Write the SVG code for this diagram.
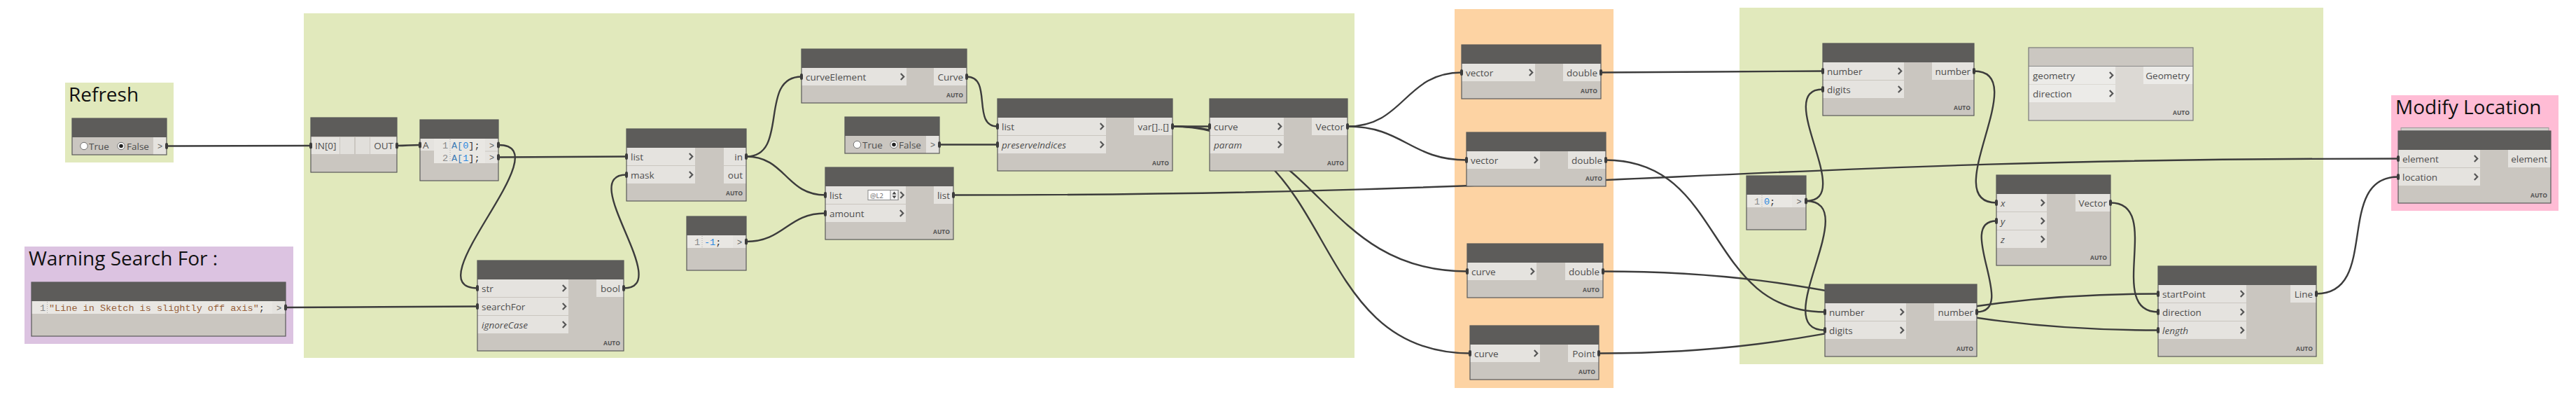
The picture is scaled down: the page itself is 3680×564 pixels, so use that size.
<svg xmlns="http://www.w3.org/2000/svg" width="3680" height="564" viewBox="0 0 3680 564">
<defs>
<style>
.grp-g{fill:#E1E9BC}
.grp-o{fill:#FDD3A3}
.grp-p{fill:#DCC3E1}
.grp-k{fill:#FFBCD5}
.gt{font-family:"Open Sans","Noto Sans",sans-serif;font-size:28px;fill:#111}
.bd{fill:#CAC6C0}
.hd{fill:#5D5C5A}
.bo{fill:none;stroke:#595959;stroke-width:1.2}
.pt{fill:#E5E3DF}
.cd{fill:#E9E7E3}
.bdl{fill:#DCD9D4}
.hdl{fill:#CBC7C1}
.ptl{fill:#ECEBE8}
.bol{fill:none;stroke:#7A7A7A;stroke-width:1.2}
.lb{font-family:"Open Sans","Noto Sans",sans-serif;font-size:13.5px;fill:#4D4D4D}
.it{font-style:italic}
.ol{text-anchor:end}
.auto{font-family:"Open Sans","Noto Sans",sans-serif;font-size:8.5px;font-weight:bold;fill:#555;text-anchor:end}
.ch{fill:none;stroke:#555;stroke-width:2.2}
.w{fill:none;stroke:#3C3C3C;stroke-width:2.4}
.nub{fill:#3C3C3C}
.mono{font-family:"Liberation Mono","DejaVu Sans Mono",monospace;font-size:13.5px;fill:#333}
.ln{fill:#8A8A8A}
.gut{stroke:#A8A8A8;stroke-width:1;stroke-dasharray:1 2}
.gtx{font-family:"Liberation Sans",sans-serif;font-size:12px;fill:#666;text-anchor:middle}
.rad{fill:#fff;stroke:#6E6E6E;stroke-width:1}
.num{fill:#2A88E0}
.var{fill:#3E7CB5}
.str{fill:#96603A}
.sep{stroke:#C9C6C1;stroke-width:1}
</style>
<path id="chev" class="ch" d="M-2.2,-4.5 L2.2,0 L-2.2,4.5"/>
</defs>
<rect width="3680" height="564" fill="#fff"/>

<!-- groups -->
<g id="groups">
<g id="g-refresh"><rect class="grp-g" x="93" y="118" width="155" height="114"/><text class="gt" x="98" y="145">Refresh</text></g>
<g id="g-warning"><rect class="grp-p" x="35" y="352" width="384" height="139"/><text class="gt" x="41" y="379">Warning Search For :</text></g>
<g id="g-main"><rect class="grp-g" x="434" y="19" width="1501" height="492"/></g>
<g id="g-orange"><rect class="grp-o" x="2078" y="13" width="227" height="541"/></g>
<g id="g-right"><rect class="grp-g" x="2485" y="11" width="834" height="509"/></g>
<g id="g-modify"><rect class="grp-k" x="3416" y="136" width="239" height="165"/><text class="gt" x="3422" y="163">Modify Location</text></g>
</g>

<!-- connectors -->
<g id="connectors">
<path class="w" d="M238,208.5 C330.7,208.5 351.3,208 444,208"/>
<path class="w" d="M567,208 C582,208 585,207 600,207"/>
<path class="w" d="M712,207 C805.2,207 588.8,411.5 682,411.5"/>
<path class="w" d="M712,224.5 C794.4,224.5 812.6,223.5 895,223.5"/>
<path class="w" d="M408,439 C531.3,439 558.7,437.5 682,437.5"/>
<path class="w" d="M891,411.5 C964,411.5 822,249.5 895,249.5"/>
<path class="w" d="M1066,223.5 C1128.4,223.5 1082.6,109.5 1145,109.5"/>
<path class="w" d="M1066,223.5 C1122.6,223.5 1122.4,278.5 1179,278.5"/>
<path class="w" d="M1066,345 C1120,345 1125,304.5 1179,304.5"/>
<path class="w" d="M1381,109.5 C1418.6,109.5 1387.4,180.5 1425,180.5"/>
<path class="w" d="M1342,206.5 C1379.4,206.5 1387.6,206.5 1425,206.5"/>
<path class="w" d="M1675,180.5 C1698.9,180.5 1704.1,180.5 1728,180.5"/>
<path class="w" d="M1675,180.5 C1886,180.5 1885,387.5 2096,387.5"/>
<path class="w" d="M1675,180.5 C1915.3,180.5 1859.7,504.5 2100,504.5"/>
<path class="w" d="M1925,180.5 C2006.2,180.5 2006.8,103.5 2088,103.5"/>
<path class="w" d="M1925,180.5 C2004.4,180.5 2015.6,228.5 2095,228.5"/>
<path class="w" d="M1362,278.5 C2291.1,278.5 2496.9,226.5 3426,226.5"/>
<path class="w" d="M2287,103.5 C2429.7,103.5 2461.3,101.5 2604,101.5"/>
<path class="w" d="M2294,228.5 C2465.4,228.5 2435.6,445.5 2607,445.5"/>
<path class="w" d="M2580,287 C2652.6,287 2531.4,127.5 2604,127.5"/>
<path class="w" d="M2580,287 C2663.9,287 2523.1,471.5 2607,471.5"/>
<path class="w" d="M2820,101.5 C2906,101.5 2766,289.5 2852,289.5"/>
<path class="w" d="M2824,445.5 C2883.8,445.5 2792.2,315.5 2852,315.5"/>
<path class="w" d="M2290,387.5 C2648.8,387.5 2724.2,471.5 3083,471.5"/>
<path class="w" d="M2284,504.5 C2645.6,504.5 2721.4,419.5 3083,419.5"/>
<path class="w" d="M3015,289.5 C3091.4,289.5 3006.6,445.5 3083,445.5"/>
<path class="w" d="M3309,419.5 C3400.8,419.5 3334.2,252.5 3426,252.5"/>
</g>

<!-- nodes -->
<g id="n-refresh-toggle">
<rect class="bd" x="103" y="169" width="135" height="52"/>
<rect class="hd" x="103" y="169" width="135" height="27"/>
<circle class="rad" cx="120" cy="208.5" r="5.2"/>
<text class="lb" x="127" y="213.5">True</text>
<circle class="rad" cx="173" cy="208.5" r="5.2"/>
<circle cx="173" cy="208.5" r="2.8" fill="#222"/>
<text class="lb" x="181" y="213.5">False</text>
<rect class="pt" x="219" y="196" width="19" height="25"/>
<text class="gtx" x="228.5" y="213">&gt;</text>
<rect class="bo" x="103" y="169" width="135" height="52"/>
<rect class="nub" x="236" y="204" width="4" height="9" rx="2"/>
</g>

<g id="n-search-code">
<rect class="bd" x="45" y="403" width="363" height="77"/>
<rect class="hd" x="45" y="403" width="363" height="27"/>
<rect class="cd" x="45" y="430" width="344" height="18"/>
<text class="mono ln" x="65" y="444" text-anchor="end">1</text>
<line class="gut" x1="67.5" y1="431" x2="67.5" y2="447"/>
<text class="mono" x="70" y="444"><tspan class="str">"Line in Sketch is slightly off axis"</tspan>;</text>
<rect class="pt" x="389" y="430" width="19" height="18"/>
<text class="gtx" x="398.5" y="443.5">&gt;</text>
<rect class="bo" x="45" y="403" width="363" height="77"/>
<rect class="nub" x="406" y="434.5" width="4" height="9" rx="2"/>
</g>

<g id="n-passthrough">
<rect class="bd" x="444" y="168" width="123" height="78"/>
<rect class="hd" x="444" y="168" width="123" height="27"/>
<rect class="pt" x="444" y="196" width="41" height="24"/>
<text class="lb" x="450" y="213">IN[0]</text>
<rect x="486" y="196" width="20" height="24" fill="#E1DFDB"/>
<rect x="508" y="196" width="20" height="24" fill="#E1DFDB"/>
<rect class="pt" x="529" y="196" width="38" height="24"/>
<text class="lb ol" x="562" y="213">OUT</text>
<rect class="bo" x="444" y="168" width="123" height="78"/>
<rect class="nub" x="442" y="203.5" width="4" height="9" rx="2"/>
<rect class="nub" x="565" y="203.5" width="4" height="9" rx="2"/>
</g>

<g id="n-code-a">
<rect class="bd" x="600" y="171" width="112" height="87"/>
<rect class="hd" x="600" y="171" width="112" height="27"/>
<rect class="pt" x="600" y="198" width="20" height="17"/>
<text class="lb" x="604" y="212">A</text>
<rect class="cd" x="620" y="198" width="73" height="35"/>
<text class="mono ln" x="640" y="212" text-anchor="end">1</text>
<text class="mono ln" x="640" y="229.5" text-anchor="end">2</text>
<line class="gut" x1="643" y1="199" x2="643" y2="232"/>
<text class="mono" x="645" y="212"><tspan class="var">A[</tspan><tspan class="num">0</tspan>];</text>
<text class="mono" x="645" y="229.5"><tspan class="var">A[</tspan><tspan class="num">1</tspan>];</text>
<rect class="pt" x="693" y="198" width="19" height="17.5"/>
<rect class="pt" x="693" y="216.5" width="19" height="16.5"/>
<text class="gtx" x="702.5" y="211.5">&gt;</text>
<text class="gtx" x="702.5" y="229">&gt;</text>
<rect class="bo" x="600" y="171" width="112" height="87"/>
<rect class="nub" x="598" y="202.5" width="4" height="9" rx="2"/>
<rect class="nub" x="710" y="202.5" width="4" height="9" rx="2"/>
<rect class="nub" x="710" y="220" width="4" height="9" rx="2"/>
</g>

<g id="n-filter">
<rect class="bd" x="895" y="184" width="171" height="103"/>
<rect class="hd" x="895" y="184" width="171" height="27"/>
<rect class="pt" x="895" y="211" width="98" height="25"/>
<rect class="pt" x="895" y="237" width="98" height="25"/>
<text class="lb" x="901" y="228.5">list</text>
<text class="lb" x="901" y="254.5">mask</text>
<use href="#chev" x="987" y="223.5"/>
<use href="#chev" x="987" y="249.5"/>
<rect class="pt" x="1034" y="211" width="32" height="25"/>
<rect class="pt" x="1034" y="237" width="32" height="25"/>
<text class="lb ol" x="1061" y="228.5">in</text>
<text class="lb ol" x="1061" y="254.5">out</text>
<text class="auto" x="1061" y="279">AUTO</text>
<rect class="bo" x="895" y="184" width="171" height="103"/>
<rect class="nub" x="893" y="219" width="4" height="9" rx="2"/>
<rect class="nub" x="893" y="245" width="4" height="9" rx="2"/>
<rect class="nub" x="1064" y="219" width="4" height="9" rx="2"/>
</g>

<g id="n-contains">
<rect class="bd" x="682" y="372" width="209" height="129"/>
<rect class="hd" x="682" y="372" width="209" height="27"/>
<rect class="pt" x="682" y="399" width="130" height="25"/>
<rect class="pt" x="682" y="425" width="130" height="25"/>
<rect class="pt" x="682" y="451" width="130" height="25"/>
<text class="lb" x="688" y="416.5">str</text>
<text class="lb" x="688" y="442.5">searchFor</text>
<text class="lb it" x="688" y="468.5">ignoreCase</text>
<use href="#chev" x="806" y="411.5"/>
<use href="#chev" x="806" y="437.5"/>
<use href="#chev" x="806" y="463.5"/>
<rect class="pt" x="852" y="399" width="39" height="25"/>
<text class="lb ol" x="886" y="416.5">bool</text>
<text class="auto" x="886" y="493">AUTO</text>
<rect class="bo" x="682" y="372" width="209" height="129"/>
<rect class="nub" x="680" y="407" width="4" height="9" rx="2"/>
<rect class="nub" x="680" y="433" width="4" height="9" rx="2"/>
<rect class="nub" x="889" y="407" width="4" height="9" rx="2"/>
</g>

<g id="n-code-minus1">
<rect class="bd" x="981" y="309" width="85" height="77"/>
<rect class="hd" x="981" y="309" width="85" height="27"/>
<rect class="cd" x="981" y="336" width="66" height="18"/>
<text class="mono ln" x="1000" y="350" text-anchor="end">1</text>
<line class="gut" x1="1003" y1="337" x2="1003" y2="353"/>
<text class="mono" x="1006" y="350"><tspan class="num">-1</tspan>;</text>
<rect class="pt" x="1047" y="336" width="19" height="18"/>
<text class="gtx" x="1056.5" y="349.5">&gt;</text>
<rect class="bo" x="981" y="309" width="85" height="77"/>
<rect class="nub" x="1064" y="340.5" width="4" height="9" rx="2"/>
</g>

<g id="n-curve-element">
<rect class="bd" x="1145" y="70" width="236" height="77"/>
<rect class="hd" x="1145" y="70" width="236" height="27"/>
<rect class="pt" x="1145" y="97" width="150" height="25"/>
<text class="lb" x="1151" y="114.5">curveElement</text>
<use href="#chev" x="1289" y="109.5"/>
<rect class="pt" x="1334" y="97" width="47" height="25"/>
<text class="lb ol" x="1376" y="114.5">Curve</text>
<text class="auto" x="1376" y="139">AUTO</text>
<rect class="bo" x="1145" y="70" width="236" height="77"/>
<rect class="nub" x="1143" y="105" width="4" height="9" rx="2"/>
<rect class="nub" x="1379" y="105" width="4" height="9" rx="2"/>
</g>

<g id="n-preserve-toggle">
<rect class="bd" x="1207" y="167" width="135" height="52"/>
<rect class="hd" x="1207" y="167" width="135" height="27"/>
<circle class="rad" cx="1224.5" cy="206.5" r="5.2"/>
<text class="lb" x="1232" y="211.5">True</text>
<circle class="rad" cx="1277" cy="206.5" r="5.2"/>
<circle cx="1277" cy="206.5" r="2.8" fill="#222"/>
<text class="lb" x="1284" y="211.5">False</text>
<rect class="pt" x="1323" y="194" width="19" height="25"/>
<text class="gtx" x="1332.5" y="211">&gt;</text>
<rect class="bo" x="1207" y="167" width="135" height="52"/>
<rect class="nub" x="1340" y="202" width="4" height="9" rx="2"/>
</g>

<g id="n-shift">
<rect class="bd" x="1179" y="239" width="183" height="103"/>
<rect class="hd" x="1179" y="239" width="183" height="27"/>
<rect class="pt" x="1179" y="266" width="115" height="25"/>
<rect class="pt" x="1179" y="292" width="115" height="25"/>
<text class="lb" x="1185" y="283.5">list</text>
<text class="lb" x="1185" y="309.5">amount</text>
<rect x="1240" y="271.5" width="43" height="14" fill="#fff" stroke="#8A8A8A" stroke-width="1"/>
<text x="1243" y="282.5" font-family="Open Sans, sans-serif" font-size="9.5" fill="#666">@L2</text>
<rect x="1272" y="271.5" width="11" height="14" fill="#F2F2F2" stroke="#8A8A8A" stroke-width="1"/>
<path d="M1274.5,277.5 L1277.5,273.5 L1280.5,277.5 Z M1274.5,279.5 L1277.5,283.5 L1280.5,279.5 Z" fill="#444"/>
<use href="#chev" x="1288.5" y="278.5"/>
<use href="#chev" x="1288" y="304.5"/>
<rect class="pt" x="1334" y="266" width="28" height="25"/>
<text class="lb ol" x="1357" y="283.5">list</text>
<text class="auto" x="1357" y="334">AUTO</text>
<rect class="bo" x="1179" y="239" width="183" height="103"/>
<rect class="nub" x="1177" y="274" width="4" height="9" rx="2"/>
<rect class="nub" x="1177" y="300" width="4" height="9" rx="2"/>
<rect class="nub" x="1360" y="274" width="4" height="9" rx="2"/>
</g>

<g id="n-clean">
<rect class="bd" x="1425" y="141" width="250" height="103"/>
<rect class="hd" x="1425" y="141" width="250" height="27"/>
<rect class="pt" x="1425" y="168" width="155" height="25"/>
<rect class="pt" x="1425" y="194" width="155" height="25"/>
<text class="lb" x="1431" y="185.5">list</text>
<text class="lb it" x="1431" y="211.5">preserveIndices</text>
<use href="#chev" x="1574" y="180.5"/>
<use href="#chev" x="1574" y="206.5"/>
<rect class="pt" x="1620" y="168" width="55" height="25"/>
<text class="lb ol" x="1670" y="185.5">var[]..[]</text>
<text class="auto" x="1670" y="236">AUTO</text>
<rect class="bo" x="1425" y="141" width="250" height="103"/>
<rect class="nub" x="1423" y="176" width="4" height="9" rx="2"/>
<rect class="nub" x="1423" y="202" width="4" height="9" rx="2"/>
<rect class="nub" x="1673" y="176" width="4" height="9" rx="2"/>
</g>

<g id="n-tangent">
<rect class="bd" x="1728" y="141" width="197" height="103"/>
<rect class="hd" x="1728" y="141" width="197" height="27"/>
<rect class="pt" x="1728" y="168" width="106" height="25"/>
<rect class="pt" x="1728" y="194" width="106" height="25"/>
<text class="lb" x="1734" y="185.5">curve</text>
<text class="lb it" x="1734" y="211.5">param</text>
<use href="#chev" x="1828" y="180.5"/>
<use href="#chev" x="1828" y="206.5"/>
<rect class="pt" x="1874" y="168" width="51" height="25"/>
<text class="lb ol" x="1920" y="185.5">Vector</text>
<text class="auto" x="1920" y="236">AUTO</text>
<rect class="bo" x="1728" y="141" width="197" height="103"/>
<rect class="nub" x="1726" y="176" width="4" height="9" rx="2"/>
<rect class="nub" x="1923" y="176" width="4" height="9" rx="2"/>
</g>

<g id="n-vector-x">
<rect class="bd" x="2088" y="64" width="199" height="77"/>
<rect class="hd" x="2088" y="64" width="199" height="27"/>
<rect class="pt" x="2088" y="91" width="105" height="25"/>
<text class="lb" x="2094" y="108.5">vector</text>
<use href="#chev" x="2187" y="103.5"/>
<rect class="pt" x="2233" y="91" width="54" height="25"/>
<text class="lb ol" x="2282" y="108.5">double</text>
<text class="auto" x="2282" y="133">AUTO</text>
<rect class="bo" x="2088" y="64" width="199" height="77"/>
<rect class="nub" x="2086" y="99" width="4" height="9" rx="2"/>
<rect class="nub" x="2285" y="99" width="4" height="9" rx="2"/>
</g>

<g id="n-vector-y">
<rect class="bd" x="2095" y="189" width="199" height="77"/>
<rect class="hd" x="2095" y="189" width="199" height="27"/>
<rect class="pt" x="2095" y="216" width="105" height="25"/>
<text class="lb" x="2101" y="233.5">vector</text>
<use href="#chev" x="2194" y="228.5"/>
<rect class="pt" x="2240" y="216" width="54" height="25"/>
<text class="lb ol" x="2289" y="233.5">double</text>
<text class="auto" x="2289" y="258">AUTO</text>
<rect class="bo" x="2095" y="189" width="199" height="77"/>
<rect class="nub" x="2093" y="224" width="4" height="9" rx="2"/>
<rect class="nub" x="2292" y="224" width="4" height="9" rx="2"/>
</g>

<g id="n-curve-length">
<rect class="bd" x="2096" y="348" width="194" height="77"/>
<rect class="hd" x="2096" y="348" width="194" height="27"/>
<rect class="pt" x="2096" y="375" width="99" height="25"/>
<text class="lb" x="2102" y="392.5">curve</text>
<use href="#chev" x="2189" y="387.5"/>
<rect class="pt" x="2236" y="375" width="54" height="25"/>
<text class="lb ol" x="2285" y="392.5">double</text>
<text class="auto" x="2285" y="417">AUTO</text>
<rect class="bo" x="2096" y="348" width="194" height="77"/>
<rect class="nub" x="2094" y="383" width="4" height="9" rx="2"/>
<rect class="nub" x="2288" y="383" width="4" height="9" rx="2"/>
</g>

<g id="n-start-point">
<rect class="bd" x="2100" y="465" width="184" height="77"/>
<rect class="hd" x="2100" y="465" width="184" height="27"/>
<rect class="pt" x="2100" y="492" width="100" height="25"/>
<text class="lb" x="2106" y="509.5">curve</text>
<use href="#chev" x="2194" y="504.5"/>
<rect class="pt" x="2240" y="492" width="44" height="25"/>
<text class="lb ol" x="2279" y="509.5">Point</text>
<text class="auto" x="2279" y="534">AUTO</text>
<rect class="bo" x="2100" y="465" width="184" height="77"/>
<rect class="nub" x="2098" y="500" width="4" height="9" rx="2"/>
<rect class="nub" x="2282" y="500" width="4" height="9" rx="2"/>
</g>

<g id="n-round-1">
<rect class="bd" x="2604" y="62" width="216" height="103"/>
<rect class="hd" x="2604" y="62" width="216" height="27"/>
<rect class="pt" x="2604" y="89" width="116" height="25"/>
<rect class="pt" x="2604" y="115" width="116" height="25"/>
<text class="lb" x="2610" y="106.5">number</text>
<text class="lb" x="2610" y="132.5">digits</text>
<use href="#chev" x="2714" y="101.5"/>
<use href="#chev" x="2714" y="127.5"/>
<rect class="pt" x="2760" y="89" width="60" height="25"/>
<text class="lb ol" x="2815" y="106.5">number</text>
<text class="auto" x="2815" y="157">AUTO</text>
<rect class="bo" x="2604" y="62" width="216" height="103"/>
<rect class="nub" x="2602" y="97" width="4" height="9" rx="2"/>
<rect class="nub" x="2602" y="123" width="4" height="9" rx="2"/>
<rect class="nub" x="2818" y="97" width="4" height="9" rx="2"/>
</g>

<g id="n-geometry">
<rect class="bdl" x="2898" y="68" width="235" height="104"/>
<rect class="hdl" x="2898" y="68" width="235" height="26"/>
<line x1="2898" y1="94.5" x2="3133" y2="94.5" stroke="#8A8A8A" stroke-width="1"/>
<rect class="ptl" x="2898" y="95" width="124" height="25"/>
<rect class="ptl" x="2898" y="121" width="124" height="25"/>
<text class="lb" x="2904" y="112.5">geometry</text>
<text class="lb" x="2904" y="138.5">direction</text>
<use href="#chev" x="3016" y="107.5"/>
<use href="#chev" x="3016" y="133.5"/>
<rect class="ptl" x="3062" y="95" width="71" height="25"/>
<text class="lb ol" x="3128" y="112.5">Geometry</text>
<text class="auto" x="3128" y="164">AUTO</text>
<rect class="bol" x="2898" y="68" width="235" height="104"/>
</g>

<g id="n-code-zero">
<rect class="bd" x="2495" y="251" width="85" height="77"/>
<rect class="hd" x="2495" y="251" width="85" height="27"/>
<rect class="cd" x="2495" y="278" width="65" height="18"/>
<text class="mono ln" x="2514" y="292" text-anchor="end">1</text>
<line class="gut" x1="2517" y1="279" x2="2517" y2="295"/>
<text class="mono" x="2520" y="292"><tspan class="num">0</tspan>;</text>
<rect class="pt" x="2560" y="278" width="20" height="18"/>
<text class="gtx" x="2570" y="291.5">&gt;</text>
<rect class="bo" x="2495" y="251" width="85" height="77"/>
<rect class="nub" x="2578" y="282.5" width="4" height="9" rx="2"/>
</g>

<g id="n-vector-xyz">
<rect class="bd" x="2852" y="250" width="163" height="129"/>
<rect class="hd" x="2852" y="250" width="163" height="27"/>
<rect class="pt" x="2852" y="277" width="72" height="25"/>
<rect class="pt" x="2852" y="303" width="72" height="25"/>
<rect class="pt" x="2852" y="329" width="72" height="25"/>
<text class="lb it" x="2858" y="294.5">x</text>
<text class="lb it" x="2858" y="320.5">y</text>
<text class="lb it" x="2858" y="346.5">z</text>
<use href="#chev" x="2918" y="289.5"/>
<use href="#chev" x="2918" y="315.5"/>
<use href="#chev" x="2918" y="341.5"/>
<rect class="pt" x="2965" y="277" width="50" height="25"/>
<text class="lb ol" x="3010" y="294.5">Vector</text>
<text class="auto" x="3010" y="371">AUTO</text>
<rect class="bo" x="2852" y="250" width="163" height="129"/>
<rect class="nub" x="2850" y="285" width="4" height="9" rx="2"/>
<rect class="nub" x="2850" y="311" width="4" height="9" rx="2"/>
<rect class="nub" x="3013" y="285" width="4" height="9" rx="2"/>
</g>

<g id="n-round-2">
<rect class="bd" x="2607" y="406" width="217" height="103"/>
<rect class="hd" x="2607" y="406" width="217" height="27"/>
<rect class="pt" x="2607" y="433" width="116" height="25"/>
<rect class="pt" x="2607" y="459" width="116" height="25"/>
<text class="lb" x="2613" y="450.5">number</text>
<text class="lb" x="2613" y="476.5">digits</text>
<use href="#chev" x="2717" y="445.5"/>
<use href="#chev" x="2717" y="471.5"/>
<rect class="pt" x="2763" y="433" width="61" height="25"/>
<text class="lb ol" x="2819" y="450.5">number</text>
<text class="auto" x="2819" y="501">AUTO</text>
<rect class="bo" x="2607" y="406" width="217" height="103"/>
<rect class="nub" x="2605" y="441" width="4" height="9" rx="2"/>
<rect class="nub" x="2605" y="467" width="4" height="9" rx="2"/>
<rect class="nub" x="2822" y="441" width="4" height="9" rx="2"/>
</g>

<g id="n-line">
<rect class="bd" x="3083" y="380" width="226" height="129"/>
<rect class="hd" x="3083" y="380" width="226" height="27"/>
<rect class="pt" x="3083" y="407" width="126" height="25"/>
<rect class="pt" x="3083" y="433" width="126" height="25"/>
<rect class="pt" x="3083" y="459" width="126" height="25"/>
<text class="lb" x="3089" y="424.5">startPoint</text>
<text class="lb" x="3089" y="450.5">direction</text>
<text class="lb it" x="3089" y="476.5">length</text>
<use href="#chev" x="3203" y="419.5"/>
<use href="#chev" x="3203" y="445.5"/>
<use href="#chev" x="3203" y="471.5"/>
<rect class="pt" x="3272" y="407" width="37" height="25"/>
<text class="lb ol" x="3304" y="424.5">Line</text>
<text class="auto" x="3304" y="501">AUTO</text>
<rect class="bo" x="3083" y="380" width="226" height="129"/>
<rect class="nub" x="3081" y="415" width="4" height="9" rx="2"/>
<rect class="nub" x="3081" y="441" width="4" height="9" rx="2"/>
<rect class="nub" x="3081" y="467" width="4" height="9" rx="2"/>
<rect class="nub" x="3307" y="415" width="4" height="9" rx="2"/>
</g>

<g id="n-set-location">
<rect x="3430" y="182.5" width="211" height="4.5" fill="#D3D0CB" stroke="#9A9A9A" stroke-width="1"/>
<rect class="bd" x="3426" y="187" width="218" height="103"/>
<rect class="hd" x="3426" y="187" width="218" height="27"/>
<rect class="pt" x="3426" y="214" width="117" height="25"/>
<rect class="pt" x="3426" y="240" width="117" height="25"/>
<text class="lb" x="3432" y="231.5">element</text>
<text class="lb" x="3432" y="257.5">location</text>
<use href="#chev" x="3537" y="226.5"/>
<use href="#chev" x="3537" y="252.5"/>
<rect class="pt" x="3583" y="214" width="61" height="25"/>
<text class="lb ol" x="3639" y="231.5">element</text>
<text class="auto" x="3639" y="282">AUTO</text>
<rect class="bo" x="3426" y="187" width="218" height="103"/>
<rect class="nub" x="3424" y="222" width="4" height="9" rx="2"/>
<rect class="nub" x="3424" y="248" width="4" height="9" rx="2"/>
</g>
</svg>
